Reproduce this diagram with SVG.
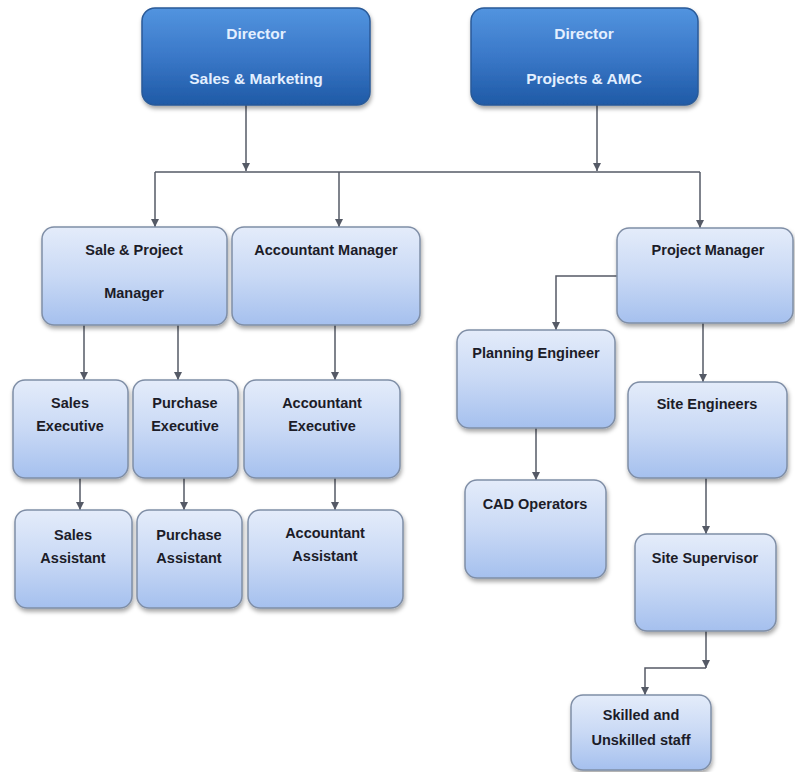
<svg xmlns="http://www.w3.org/2000/svg" width="795" height="772" viewBox="0 0 795 772">
<defs>
<linearGradient id="gDir" x1="0" y1="0" x2="0" y2="1">
<stop offset="0" stop-color="#5294df"/>
<stop offset="0.5" stop-color="#3a78c8"/>
<stop offset="1" stop-color="#1f5aa6"/>
</linearGradient>
<linearGradient id="gBox" x1="0" y1="0" x2="0" y2="1">
<stop offset="0" stop-color="#e4ecfa"/>
<stop offset="0.5" stop-color="#c9d9f5"/>
<stop offset="1" stop-color="#a5c0ee"/>
</linearGradient>
<filter id="sh" x="-10%" y="-10%" width="125%" height="130%">
<feDropShadow dx="1" dy="3" stdDeviation="2" flood-color="#000" flood-opacity="0.35"/>
</filter>
<marker id="ar" viewBox="0 0 10 10" refX="10" refY="5" markerWidth="8" markerHeight="8" markerUnits="userSpaceOnUse" orient="auto">
<path d="M0,0 L10,5 L0,10 z" fill="#555a66"/>
</marker>
</defs>
<style>
.dir{fill:url(#gDir);stroke:#2a5a98;stroke-width:1.5;filter:url(#sh)}
.box{fill:url(#gBox);stroke:#7f8ea6;stroke-width:1.5;filter:url(#sh)}
.dt{font-family:"Liberation Sans",Arial,sans-serif;font-size:15.5px;font-weight:bold;fill:#e3efff;text-anchor:middle}
.t{font-family:"Liberation Sans",Arial,sans-serif;font-size:14.5px;font-weight:bold;fill:#1c1c28;text-anchor:middle}
.c{fill:none;stroke:#555a66;stroke-width:1.5}
</style>
<rect width="795" height="772" fill="#ffffff"/>
<g id="connectors">
<path class="c" d="M246,105 V171" marker-end="url(#ar)"/>
<path class="c" d="M597,105 V171"  marker-end="url(#ar)"/>
<path class="c" d="M155,172 H700"/>
<path class="c" d="M155,172 V227" marker-end="url(#ar)"/>
<path class="c" d="M339,172 V227" marker-end="url(#ar)"/>
<path class="c" d="M700,172 V228" marker-end="url(#ar)"/>
<path class="c" d="M617,276 H556 V330" marker-end="url(#ar)"/>
<path class="c" d="M703,323 V382" marker-end="url(#ar)"/>
<path class="c" d="M84,325 V380" marker-end="url(#ar)"/>
<path class="c" d="M178,325 V380" marker-end="url(#ar)"/>
<path class="c" d="M335,325 V380" marker-end="url(#ar)"/>
<path class="c" d="M80,478 V510" marker-end="url(#ar)"/>
<path class="c" d="M184,478 V510" marker-end="url(#ar)"/>
<path class="c" d="M335,478 V510" marker-end="url(#ar)"/>
<path class="c" d="M536,428 V480" marker-end="url(#ar)"/>
<path class="c" d="M706,478 V534" marker-end="url(#ar)"/>
<path class="c" d="M706,631 V668" marker-end="url(#ar)"/>
<path class="c" d="M706,668 H645 V695" marker-end="url(#ar)"/>
</g>
<g id="dir-sales">
<rect class="dir" x="142" y="8" width="228" height="97" rx="13"/>
<text class="dt" x="256" y="39">Director</text>
<text class="dt" x="256" y="84">Sales &amp; Marketing</text>
</g>
<g id="dir-projects">
<rect class="dir" x="471" y="8" width="227" height="97" rx="13"/>
<text class="dt" x="584" y="39">Director</text>
<text class="dt" x="584" y="84">Projects &amp; AMC</text>
</g>
<g id="sale-project-manager">
<rect class="box" x="42" y="227" width="185" height="98" rx="12"/>
<text class="t" x="134" y="255">Sale &amp; Project</text>
<text class="t" x="134" y="298">Manager</text>
</g>
<g id="accountant-manager">
<rect class="box" x="232" y="227" width="188" height="98" rx="12"/>
<text class="t" x="326" y="255">Accountant Manager</text>
</g>
<g id="project-manager">
<rect class="box" x="617" y="228" width="176" height="95" rx="12"/>
<text class="t" x="708" y="255">Project Manager</text>
</g>
<g id="planning-engineer">
<rect class="box" x="457" y="330" width="158" height="98" rx="12"/>
<text class="t" x="536" y="358">Planning Engineer</text>
</g>
<g id="site-engineers">
<rect class="box" x="628" y="382" width="159" height="96" rx="12"/>
<text class="t" x="707" y="409">Site Engineers</text>
</g>
<g id="cad-operators">
<rect class="box" x="465" y="480" width="141" height="98" rx="12"/>
<text class="t" x="535" y="509">CAD Operators</text>
</g>
<g id="site-supervisor">
<rect class="box" x="635" y="534" width="141" height="97" rx="12"/>
<text class="t" x="705" y="563">Site Supervisor</text>
</g>
<g id="skilled-staff">
<rect class="box" x="571" y="695" width="140" height="75" rx="12"/>
<text class="t" x="641" y="720">Skilled and</text>
<text class="t" x="641" y="745">Unskilled staff</text>
</g>
<g id="sales-executive">
<rect class="box" x="13" y="380" width="115" height="98" rx="12"/>
<text class="t" x="70" y="408">Sales</text>
<text class="t" x="70" y="431">Executive</text>
</g>
<g id="purchase-executive">
<rect class="box" x="133" y="380" width="105" height="98" rx="12"/>
<text class="t" x="185" y="408">Purchase</text>
<text class="t" x="185" y="431">Executive</text>
</g>
<g id="accountant-executive">
<rect class="box" x="244" y="380" width="156" height="98" rx="12"/>
<text class="t" x="322" y="408">Accountant</text>
<text class="t" x="322" y="431">Executive</text>
</g>
<g id="sales-assistant">
<rect class="box" x="15" y="510" width="117" height="98" rx="12"/>
<text class="t" x="73" y="540">Sales</text>
<text class="t" x="73" y="563">Assistant</text>
</g>
<g id="purchase-assistant">
<rect class="box" x="137" y="510" width="105" height="98" rx="12"/>
<text class="t" x="189" y="540">Purchase</text>
<text class="t" x="189" y="563">Assistant</text>
</g>
<g id="accountant-assistant">
<rect class="box" x="248" y="510" width="155" height="98" rx="12"/>
<text class="t" x="325" y="538">Accountant</text>
<text class="t" x="325" y="561">Assistant</text>
</g>
</svg>
